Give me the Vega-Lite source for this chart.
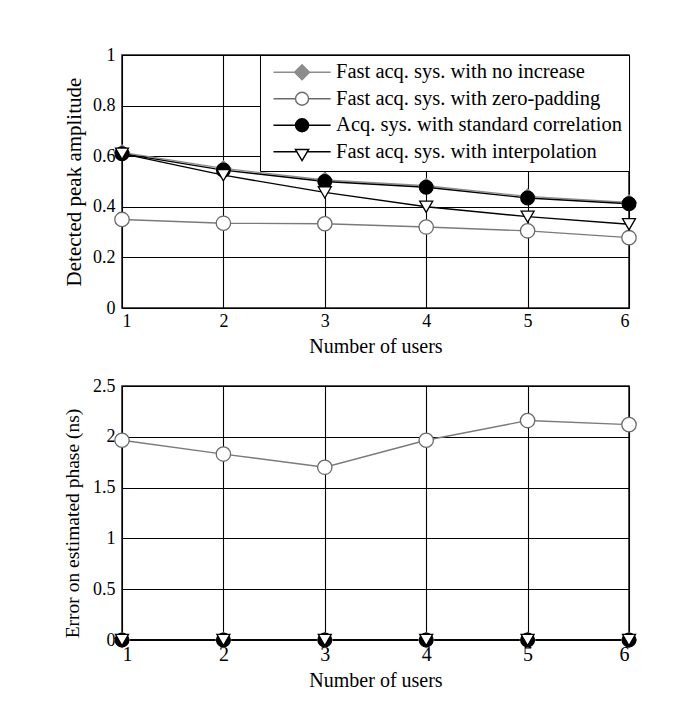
{
  "$schema": "https://vega.github.io/schema/vega-lite/v6.json",
  "padding": {"left": 61, "top": 45, "right": 5, "bottom": 5},
  "background": "white",
  "config": {
    "font": "Liberation Serif",
    "view": {"stroke": "#1a1a1a", "strokeWidth": 1.5},
    "axis": {
      "grid": true, "gridColor": "#000000", "gridWidth": 1.1, "gridOpacity": 1,
      "ticks": false, "domain": false,
      "labelColor": "black", "titleColor": "black",
      "labelFont": "Liberation Serif", "titleFont": "Liberation Serif",
      "titleFontWeight": "normal", "labelFontSize": 18, "titleFontSize": 20
    }
  },
  "datasets": {
    "top": [
      {"users": 1, "series": "Fast acq. sys. with no increase", "amp": 0.615},
      {"users": 2, "series": "Fast acq. sys. with no increase", "amp": 0.552},
      {"users": 3, "series": "Fast acq. sys. with no increase", "amp": 0.506},
      {"users": 4, "series": "Fast acq. sys. with no increase", "amp": 0.483},
      {"users": 5, "series": "Fast acq. sys. with no increase", "amp": 0.441},
      {"users": 6, "series": "Fast acq. sys. with no increase", "amp": 0.417},
      {"users": 1, "series": "Fast acq. sys. with zero-padding", "amp": 0.35},
      {"users": 2, "series": "Fast acq. sys. with zero-padding", "amp": 0.335},
      {"users": 3, "series": "Fast acq. sys. with zero-padding", "amp": 0.333},
      {"users": 4, "series": "Fast acq. sys. with zero-padding", "amp": 0.32},
      {"users": 5, "series": "Fast acq. sys. with zero-padding", "amp": 0.305},
      {"users": 6, "series": "Fast acq. sys. with zero-padding", "amp": 0.278},
      {"users": 1, "series": "Acq. sys. with standard correlation", "amp": 0.61},
      {"users": 2, "series": "Acq. sys. with standard correlation", "amp": 0.545},
      {"users": 3, "series": "Acq. sys. with standard correlation", "amp": 0.5},
      {"users": 4, "series": "Acq. sys. with standard correlation", "amp": 0.477},
      {"users": 5, "series": "Acq. sys. with standard correlation", "amp": 0.435},
      {"users": 6, "series": "Acq. sys. with standard correlation", "amp": 0.412},
      {"users": 1, "series": "Fast acq. sys. with interpolation", "amp": 0.61},
      {"users": 2, "series": "Fast acq. sys. with interpolation", "amp": 0.525},
      {"users": 3, "series": "Fast acq. sys. with interpolation", "amp": 0.457},
      {"users": 4, "series": "Fast acq. sys. with interpolation", "amp": 0.4},
      {"users": 5, "series": "Fast acq. sys. with interpolation", "amp": 0.361},
      {"users": 6, "series": "Fast acq. sys. with interpolation", "amp": 0.331}
    ],
    "bottom": [
      {"users": 1, "series": "Fast acq. sys. with no increase", "err": 0},
      {"users": 2, "series": "Fast acq. sys. with no increase", "err": 0},
      {"users": 3, "series": "Fast acq. sys. with no increase", "err": 0},
      {"users": 4, "series": "Fast acq. sys. with no increase", "err": 0},
      {"users": 5, "series": "Fast acq. sys. with no increase", "err": 0},
      {"users": 6, "series": "Fast acq. sys. with no increase", "err": 0},
      {"users": 1, "series": "Fast acq. sys. with zero-padding", "err": 1.966},
      {"users": 2, "series": "Fast acq. sys. with zero-padding", "err": 1.83},
      {"users": 3, "series": "Fast acq. sys. with zero-padding", "err": 1.7},
      {"users": 4, "series": "Fast acq. sys. with zero-padding", "err": 1.966},
      {"users": 5, "series": "Fast acq. sys. with zero-padding", "err": 2.16},
      {"users": 6, "series": "Fast acq. sys. with zero-padding", "err": 2.12},
      {"users": 1, "series": "Acq. sys. with standard correlation", "err": 0},
      {"users": 2, "series": "Acq. sys. with standard correlation", "err": 0},
      {"users": 3, "series": "Acq. sys. with standard correlation", "err": 0},
      {"users": 4, "series": "Acq. sys. with standard correlation", "err": 0},
      {"users": 5, "series": "Acq. sys. with standard correlation", "err": 0},
      {"users": 6, "series": "Acq. sys. with standard correlation", "err": 0},
      {"users": 1, "series": "Fast acq. sys. with interpolation", "err": 0},
      {"users": 2, "series": "Fast acq. sys. with interpolation", "err": 0},
      {"users": 3, "series": "Fast acq. sys. with interpolation", "err": 0},
      {"users": 4, "series": "Fast acq. sys. with interpolation", "err": 0},
      {"users": 5, "series": "Fast acq. sys. with interpolation", "err": 0},
      {"users": 6, "series": "Fast acq. sys. with interpolation", "err": 0}
    ]
  },
  "resolve": {
    "scale": {"color": "independent", "shape": "independent", "fill": "independent", "stroke": "independent", "size": "independent"},
    "legend": {"color": "independent", "shape": "independent", "fill": "independent", "stroke": "independent", "size": "independent"}
  },
  "columns": 1,
  "align": "none",
  "spacing": 19,
  "concat": [
    {
      "width": 507,
      "height": 253,
      "data": {"name": "top"},
      "resolve": {
        "scale": {"color": "independent", "shape": "independent", "fill": "independent", "stroke": "independent", "size": "independent"},
        "legend": {"color": "independent", "shape": "independent", "fill": "independent", "stroke": "independent", "size": "independent"}
      },
      "layer": [
        {
          "mark": {"type": "line", "strokeWidth": 1.4},
          "encoding": {
            "x": {"field": "users", "type": "quantitative", "scale": {"domain": [1, 6], "nice": false, "zero": false},
                  "axis": {"values": [1, 2, 3, 4, 5, 6], "format": "d", "title": "Number of users", "labelPadding": 4, "titlePadding": 6}},
            "y": {"field": "amp", "type": "quantitative", "scale": {"domain": [0, 1], "nice": false},
                  "axis": {"values": [0, 0.2, 0.4, 0.6, 0.8, 1], "format": "~g", "title": "Detected peak amplitude", "labelPadding": 7, "titlePadding": 8, "titleFontSize": 21}},
            "color": {"field": "series", "type": "nominal",
                      "scale": {"domain": ["Fast acq. sys. with no increase", "Fast acq. sys. with zero-padding", "Acq. sys. with standard correlation", "Fast acq. sys. with interpolation"],
                                "range": ["#8c8c8c", "#7a7a7a", "#000000", "#000000"]},
                      "legend": null}
          }
        },
        {
          "mark": {"type": "point", "filled": false, "opacity": 1, "strokeWidth": 1.3},
          "encoding": {
            "x": {"field": "users", "type": "quantitative"},
            "y": {"field": "amp", "type": "quantitative"},
            "shape": {"field": "series", "type": "nominal",
                      "scale": {"domain": ["Fast acq. sys. with no increase", "Fast acq. sys. with zero-padding", "Acq. sys. with standard correlation", "Fast acq. sys. with interpolation"],
                                "range": ["diamond", "circle", "circle", "triangle-down"]}, "legend": null},
            "fill": {"field": "series", "type": "nominal",
                     "scale": {"domain": ["Fast acq. sys. with no increase", "Fast acq. sys. with zero-padding", "Acq. sys. with standard correlation", "Fast acq. sys. with interpolation"],
                               "range": ["#8c8c8c", "#ffffff", "#000000", "#ffffff"]}, "legend": null},
            "stroke": {"field": "series", "type": "nominal",
                       "scale": {"domain": ["Fast acq. sys. with no increase", "Fast acq. sys. with zero-padding", "Acq. sys. with standard correlation", "Fast acq. sys. with interpolation"],
                                 "range": ["#8c8c8c", "#6a6a6a", "#000000", "#000000"]}, "legend": null},
            "size": {"field": "series", "type": "nominal",
                     "scale": {"domain": ["Fast acq. sys. with no increase", "Fast acq. sys. with zero-padding", "Acq. sys. with standard correlation", "Fast acq. sys. with interpolation"],
                               "range": [225, 169, 169, 182]}, "legend": null}
          }
        },
        {
          "transform": [{"filter": "datum.users > 100"}],
          "mark": {"type": "point", "filled": false, "opacity": 1, "strokeWidth": 1.4, "size": 169},
          "encoding": {
            "x": {"field": "users", "type": "quantitative"},
            "y": {"field": "amp", "type": "quantitative"},
            "shape": {"field": "series", "type": "nominal",
                      "scale": {"domain": ["Fast acq. sys. with no increase", "Fast acq. sys. with zero-padding", "Acq. sys. with standard correlation", "Fast acq. sys. with interpolation"],
                                "range": ["M-4.4,0H-1.15M1.15,0H4.4M0,-1.15L1.15,0L0,1.15L-1.15,0Z", "M-4.4,0H-1M1,0H4.4M1,0A1,1,0,1,1,-1,0A1,1,0,1,1,1,0Z", "M-4.4,0H-1M1,0H4.4M1,0A1,1,0,1,1,-1,0A1,1,0,1,1,1,0Z", "M-4.4,0H-0.7M0.7,0H4.4M-1.02,-0.35L1.02,-0.35L0,1.35Z"]},
                      "legend": {
                        "title": null, "orient": "top-right", "offset": 0,
                        "strokeColor": "black", "fillColor": "white", "padding": 7,
                        "labelFontSize": 20.5, "labelFont": "Liberation Serif", "labelColor": "black", "labelLimit": 400,
                        "symbolSize": 169, "symbolStrokeWidth": 1.4, "symbolOpacity": 1,
                        "symbolOffset": 24.8, "labelOffset": 23.8, "rowPadding": 5.5
                      }},
            "fill": {"field": "series", "type": "nominal",
                     "scale": {"domain": ["Fast acq. sys. with no increase", "Fast acq. sys. with zero-padding", "Acq. sys. with standard correlation", "Fast acq. sys. with interpolation"],
                               "range": ["#8c8c8c", "#ffffff", "#000000", "#ffffff"]}},
            "stroke": {"field": "series", "type": "nominal",
                       "scale": {"domain": ["Fast acq. sys. with no increase", "Fast acq. sys. with zero-padding", "Acq. sys. with standard correlation", "Fast acq. sys. with interpolation"],
                                 "range": ["#8c8c8c", "#6a6a6a", "#000000", "#000000"]}}
          }
        }
      ]
    },
    {
      "width": 507,
      "height": 254,
      "data": {"name": "bottom"},
      "layer": [
        {
          "mark": {"type": "line", "strokeWidth": 1.4},
          "encoding": {
            "x": {"field": "users", "type": "quantitative", "scale": {"domain": [1, 6], "nice": false, "zero": false},
                  "axis": {"values": [1, 2, 3, 4, 5, 6], "format": "d", "title": "Number of users", "labelPadding": 4, "titlePadding": 6, "labelFontSize": 20}},
            "y": {"field": "err", "type": "quantitative", "scale": {"domain": [0, 2.5], "nice": false},
                  "axis": {"values": [0, 0.5, 1, 1.5, 2, 2.5], "format": "~g", "title": "Error on estimated phase (ns)", "labelPadding": 7, "titlePadding": 10, "titleFontSize": 19.5, "titleY": 137}},
            "color": {"field": "series", "type": "nominal",
                      "scale": {"domain": ["Fast acq. sys. with no increase", "Fast acq. sys. with zero-padding", "Acq. sys. with standard correlation", "Fast acq. sys. with interpolation"],
                                "range": ["#8c8c8c", "#7a7a7a", "#000000", "#000000"]},
                      "legend": null}
          }
        },
        {
          "mark": {"type": "point", "filled": false, "opacity": 1, "strokeWidth": 1.3},
          "encoding": {
            "x": {"field": "users", "type": "quantitative"},
            "y": {"field": "err", "type": "quantitative"},
            "shape": {"field": "series", "type": "nominal",
                      "scale": {"domain": ["Fast acq. sys. with no increase", "Fast acq. sys. with zero-padding", "Acq. sys. with standard correlation", "Fast acq. sys. with interpolation"],
                                "range": ["diamond", "circle", "circle", "triangle-down"]}, "legend": null},
            "fill": {"field": "series", "type": "nominal",
                     "scale": {"domain": ["Fast acq. sys. with no increase", "Fast acq. sys. with zero-padding", "Acq. sys. with standard correlation", "Fast acq. sys. with interpolation"],
                               "range": ["#8c8c8c", "#ffffff", "#000000", "#ffffff"]}, "legend": null},
            "stroke": {"field": "series", "type": "nominal",
                       "scale": {"domain": ["Fast acq. sys. with no increase", "Fast acq. sys. with zero-padding", "Acq. sys. with standard correlation", "Fast acq. sys. with interpolation"],
                                 "range": ["#8c8c8c", "#6a6a6a", "#000000", "#000000"]}, "legend": null},
            "size": {"field": "series", "type": "nominal",
                     "scale": {"domain": ["Fast acq. sys. with no increase", "Fast acq. sys. with zero-padding", "Acq. sys. with standard correlation", "Fast acq. sys. with interpolation"],
                               "range": [225, 169, 169, 182]}, "legend": null}
          }
        }
      ]
    }
  ]
}
